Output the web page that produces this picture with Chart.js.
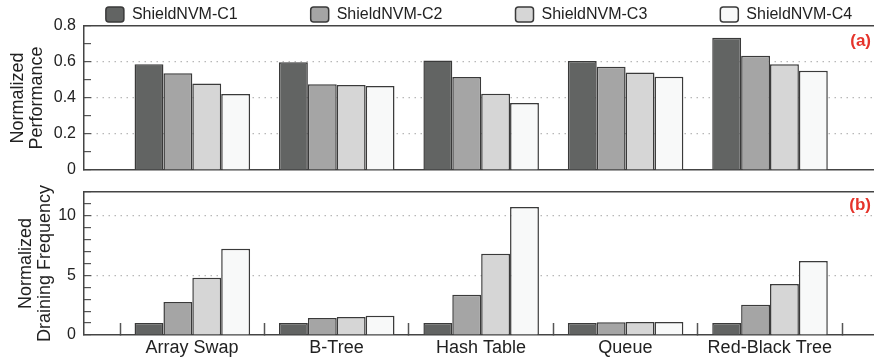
<!DOCTYPE html>
<html lang="en">
<head>
<meta charset="UTF-8">
<title>ShieldNVM: performance and draining frequency</title>
<script src="https://cdn.jsdelivr.net/npm/chart.js"></script>
<style>
  body { margin: 0; background: #fff; }
  .panel { position: absolute; left: 0; width: 874px; }
  #top { top: 0; height: 180px; }
  #bottom { top: 180px; height: 182px; }
</style>
</head>
<body>

<div class="panel" id="top"><canvas id="perfChart" width="874" height="180"></canvas></div>
<div class="panel" id="bottom"><canvas id="drainChart" width="874" height="182"></canvas></div>

<script>
// data
const workloads = ['Array Swap', 'B-Tree', 'Hash Table', 'Queue', 'Red-Black Tree'];
const configs = ['ShieldNVM-C1', 'ShieldNVM-C2', 'ShieldNVM-C3', 'ShieldNVM-C4'];

const perfC1 = [0.587, 0.598, 0.609, 0.606, 0.735];
const perfC2 = [0.537, 0.476, 0.517, 0.574, 0.635];
const perfC3 = [0.480, 0.472, 0.424, 0.541, 0.587];
const perfC4 = [0.422, 0.467, 0.372, 0.518, 0.552];

const drainC1 = [1.00, 1.00, 1.00, 1.00, 1.00];
const drainC2 = [2.76, 1.43, 3.37, 1.08, 2.54];
const drainC3 = [4.80, 1.51, 6.81, 1.09, 4.27];
const drainC4 = [7.23, 1.62, 10.75, 1.09, 6.20];

const perfTicks = { min: 0, max: 0.8, step: 0.1 };
const drainTicks = { min: 0, max: 12, step: 1 };

const FONT = "'Liberation Sans', Arial, sans-serif";
const TEXT = '#222';
const AXIS = '#444';
const DOTS = '#b8b8b8';
const fills = ['#626463', '#a5a5a5', '#d6d6d6', '#f8f9f9'];

// ticks sit between the workloads, labels are shifted to the middle
const boundaries = workloads.map((_, i) => i - 0.5).concat(workloads.length - 0.5);

function makeDatasets(series) {
  return series.map((vals, k) => ({
    label: configs[k],
    data: vals.map((v, i) => ({ x: i, y: v })),
    backgroundColor: fills[k],
    borderColor: '#3a3a3a',
    borderWidth: 1.5,
    categoryPercentage: 0.8,
    barPercentage: 1.0
  }));
}

function noOverflow(s) {
  s.paddingTop = 0;
  s.paddingBottom = 0;
  s.paddingLeft = 0;
  s.paddingRight = 0;
}

function xAxis(withLabels) {
  return {
    type: 'linear',
    min: -0.75,
    max: 4.72,
    offset: false,
    afterBuildTicks: s => { s.ticks = boundaries.map(v => ({ value: v })); },
    afterFit: s => { s.height = withLabels ? 27 : 0; noOverflow(s); },
    border: { color: AXIS, width: 1.5 },
    grid: withLabels
      ? { offset: false, drawOnChartArea: false, drawTicks: true, tickLength: -12, tickColor: '#555', tickWidth: 1.5 }
      : { display: false, drawTicks: false },
    ticks: withLabels
      ? {
          autoSkip: false, maxRotation: 0, minRotation: 0,
          labelOffset: 72, padding: 14,
          color: TEXT, font: { family: FONT, size: 18 },
          callback: (v, i) => workloads[i] || ''
        }
      : { display: false }
  };
}

function frameTop() {
  return {
    type: 'linear', position: 'top', min: -0.75, max: 4.72,
    afterFit: s => { s.height = 0; noOverflow(s); },
    border: { color: AXIS, width: 1.5 },
    grid: { display: false, drawTicks: false },
    ticks: { display: false }
  };
}

function yAxis(range, isMajor, fmt, title, titlePad) {
  return {
    min: range.min,
    max: range.max,
    afterFit: s => { s.width = 84; noOverflow(s); },
    border: { color: AXIS, width: 1.5, dash: [1.5, 4.5] },
    grid: {
      color: c => {
        const v = c.tick.value;
        return isMajor(v) && v > range.min && v < range.max ? DOTS : 'rgba(0,0,0,0)';
      },
      lineWidth: 1.2,
      drawTicks: true,
      tickLength: -7,
      tickColor: '#555',
      tickWidth: 1.2
    },
    ticks: {
      stepSize: range.step,
      autoSkip: false,
      padding: 15,
      color: TEXT,
      font: { family: FONT, size: 16 },
      callback: v => isMajor(v) ? fmt(v) : ''
    },
    title: {
      display: true,
      text: title,
      color: TEXT,
      font: { family: FONT, size: 18, lineHeight: '19px' },
      padding: { top: titlePad, bottom: 0 }
    }
  };
}

// legend items are spread wider than chart.js would allow on one row
const legendSpread = {
  id: 'legendSpread',
  beforeInit(chart) {
    const legend = chart.legend;
    if (!legend) return;
    const fit = legend.fit;
    legend.fit = function () {
      const w = this.maxWidth;
      this.maxWidth = 4000;
      fit.call(this);
      this.maxWidth = w;
      this.width = w;
      this.height = 26;
    };
    const draw = legend.draw;
    legend.draw = function () {
      const t = this.top, l = this.left, r = this.right;
      this.top = t + 6.5 - this.options.labels.padding;
      this.left = l - 500;
      this.right = r + 500;
      draw.call(this);
      this.top = t;
      this.left = l;
      this.right = r;
    };
  }
};

const panelTag = {
  id: 'panelTag',
  afterDraw(chart, args, opts) {
    const { ctx, chartArea } = chart;
    ctx.save();
    ctx.font = 'bold 17px ' + FONT;
    ctx.fillStyle = '#e5332a';
    ctx.textAlign = 'right';
    ctx.textBaseline = 'middle';
    ctx.fillText(opts.text, chartArea.right - 3, chartArea.top + opts.dy);
    ctx.restore();
  }
};

// (a) normalized performance
new Chart(document.getElementById('perfChart'), {
  type: 'bar',
  data: { datasets: makeDatasets([perfC1, perfC2, perfC3, perfC4]) },
  options: {
    responsive: false,
    animation: false,
    devicePixelRatio: 1,
    layout: { autoPadding: false, padding: { top: 0, left: 0, right: 0, bottom: 10 } },
    scales: {
      x: xAxis(false),
      xTop: frameTop(),
      y: yAxis(perfTicks, v => Math.round(v * 10) % 2 === 0, v => String(Math.round(v * 10) / 10),
        ['Normalized', 'Performance'], 8.5)
    },
    plugins: {
      legend: {
        position: 'top',
        fullSize: false,
        labels: {
          color: TEXT,
          font: { family: FONT, size: 16 },
          boxWidth: 18,
          boxHeight: 15,
          padding: 73,
          useBorderRadius: true,
          borderRadius: 3
        }
      },
      tooltip: { enabled: false },
      panelTag: { text: '(a)', dy: 15 }
    }
  },
  plugins: [legendSpread, panelTag]
});

// (b) normalized draining frequency
new Chart(document.getElementById('drainChart'), {
  type: 'bar',
  data: { datasets: makeDatasets([drainC1, drainC2, drainC3, drainC4]) },
  options: {
    responsive: false,
    animation: false,
    devicePixelRatio: 1,
    layout: { autoPadding: false, padding: { top: 12, left: 0, right: 0, bottom: 0 } },
    scales: {
      x: xAxis(true),
      xTop: frameTop(),
      y: yAxis(drainTicks, v => Math.round(v) % 5 === 0, v => String(Math.round(v)),
        ['Normalized', 'Draining Frequency'], 17)
    },
    plugins: {
      legend: { display: false },
      tooltip: { enabled: false },
      panelTag: { text: '(b)', dy: 13.5 }
    }
  },
  plugins: [panelTag]
});
</script>

</body>
</html>
